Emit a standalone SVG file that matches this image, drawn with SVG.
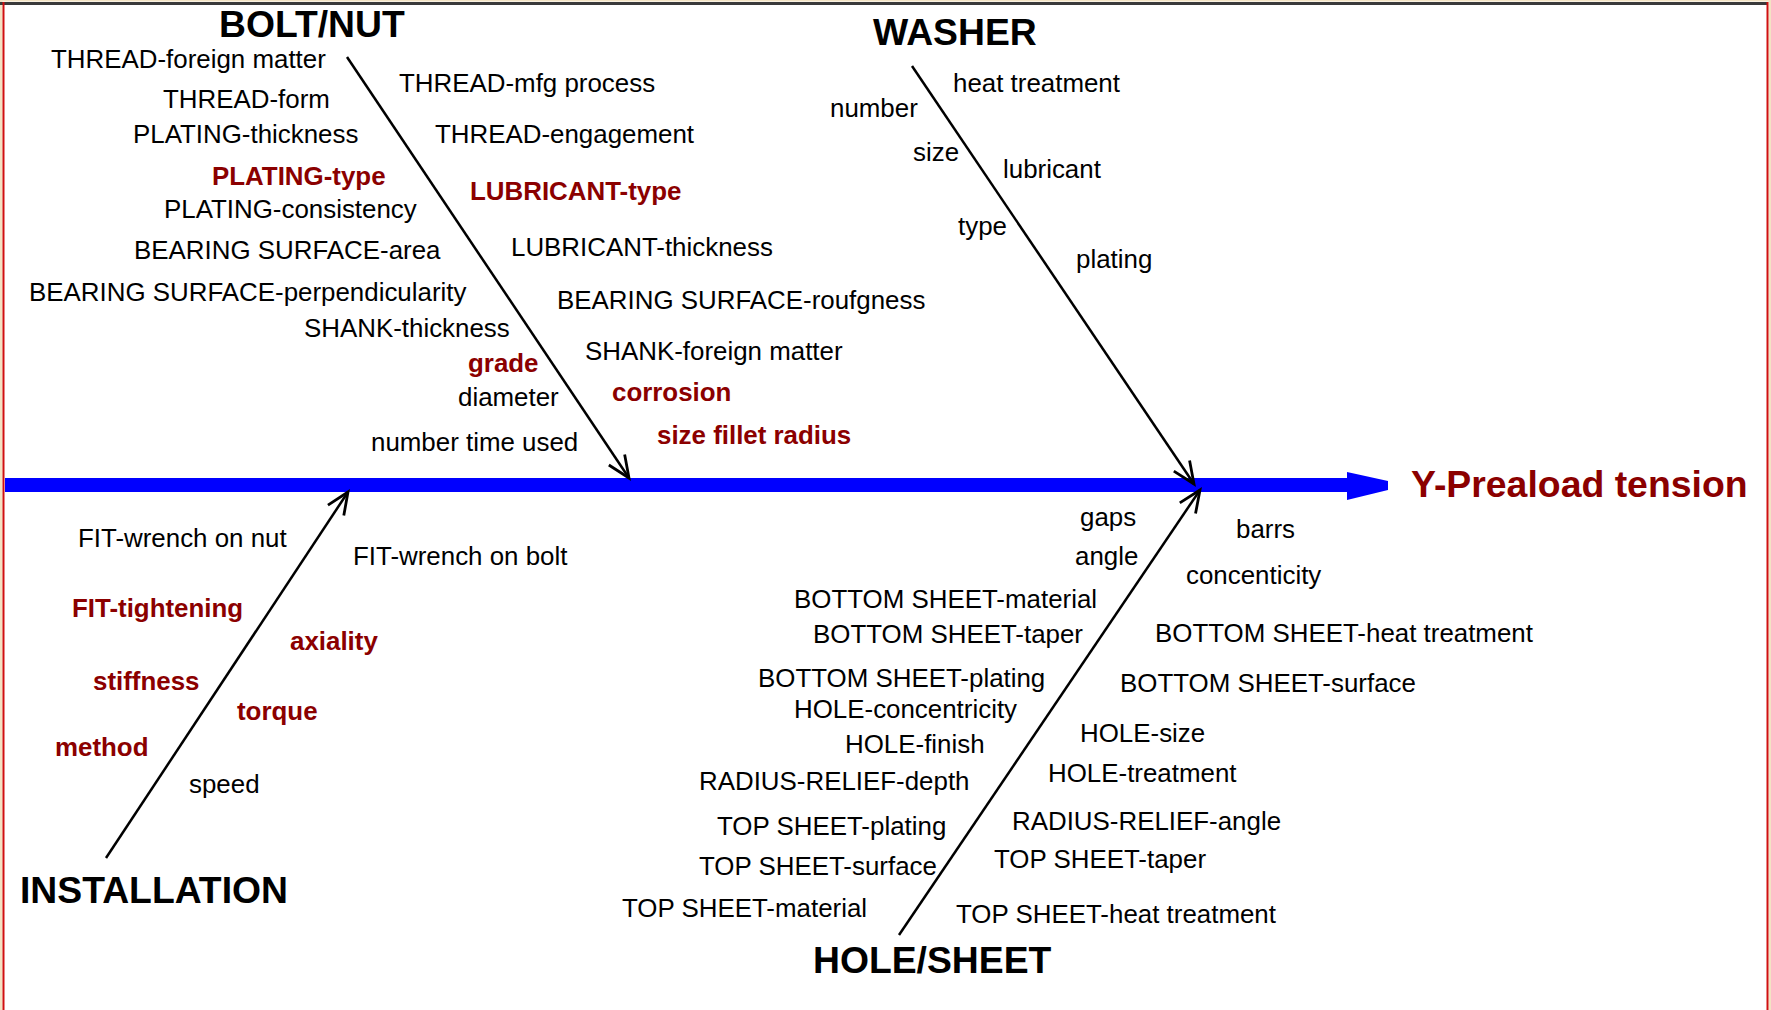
<svg xmlns="http://www.w3.org/2000/svg" width="1771" height="1010" viewBox="0 0 1771 1010">
<defs>
<style>
text{font-family:"Liberation Sans",Arial,sans-serif;font-size:25.9px;fill:#000}
.r{font-weight:bold;fill:#8b0000}
.h{font-weight:bold;font-size:37.3px}
.eff{font-weight:bold;font-size:37.4px;fill:#8b0000}
.bone{stroke:#000;stroke-width:2.5;fill:none}
</style>
<marker id="ah" markerWidth="28" markerHeight="24" refX="24" refY="12" orient="auto" markerUnits="userSpaceOnUse">
<path d="M2,2.5 L24,12 L2,21.5" fill="none" stroke="#000" stroke-width="2.8"/>
</marker>
</defs>
<rect x="0" y="0" width="1771" height="1010" fill="#fff"/>
<g id="frame">
<rect x="0" y="0" width="2.5" height="1010" fill="#f3e3c3"/>
<rect x="1768.5" y="0" width="2.5" height="1010" fill="#f3e3c3"/>
<rect x="0" y="0" width="1771" height="1.5" fill="#f3e3c3"/>
<line x1="0" y1="3.5" x2="1768" y2="3.5" stroke="#3a3a3a" stroke-width="3"/>
<line x1="3.5" y1="2" x2="3.5" y2="1010" stroke="#d01010" stroke-width="2"/>
<line x1="1767.5" y1="2" x2="1767.5" y2="1010" stroke="#d01010" stroke-width="2"/>
</g>
<g id="connectors">
<line x1="5" y1="485" x2="1350" y2="485" stroke="#0000ff" stroke-width="14"/>
<polygon points="1347,472 1388,481 1388,490 1347,500" fill="#0000ff"/>
<line class="bone" x1="347" y1="57" x2="629" y2="478" marker-end="url(#ah)"/>
<line class="bone" x1="912" y1="66" x2="1194" y2="484" marker-end="url(#ah)"/>
<line class="bone" x1="106" y1="858" x2="348" y2="492" marker-end="url(#ah)"/>
<line class="bone" x1="899" y1="935" x2="1200" y2="490" marker-end="url(#ah)"/>
</g>
<g id="effect">
<text class="eff" x="1411" y="497">Y-Preaload tension</text>
</g>
<g id="bolt-nut">
<text class="h" x="219" y="37">BOLT/NUT</text>
<text x="51" y="68">THREAD-foreign matter</text>
<text x="163" y="108">THREAD-form</text>
<text x="133" y="143">PLATING-thickness</text>
<text class="r" x="212" y="185">PLATING-type</text>
<text x="164" y="218">PLATING-consistency</text>
<text x="134" y="259">BEARING SURFACE-area</text>
<text x="29" y="301">BEARING SURFACE-perpendicularity</text>
<text x="304" y="337">SHANK-thickness</text>
<text class="r" x="468" y="372">grade</text>
<text x="458" y="406">diameter</text>
<text x="371" y="451">number time used</text>
<text x="399" y="92">THREAD-mfg process</text>
<text x="435" y="143">THREAD-engagement</text>
<text class="r" x="470" y="200">LUBRICANT-type</text>
<text x="511" y="256">LUBRICANT-thickness</text>
<text x="557" y="309">BEARING SURFACE-roufgness</text>
<text x="585" y="360">SHANK-foreign matter</text>
<text class="r" x="612" y="401">corrosion</text>
<text class="r" x="657" y="444">size fillet radius</text>
</g>
<g id="washer">
<text class="h" x="873" y="45">WASHER</text>
<text x="953" y="92">heat treatment</text>
<text x="830" y="117">number</text>
<text x="913" y="161">size</text>
<text x="1003" y="178">lubricant</text>
<text x="958" y="235">type</text>
<text x="1076" y="268">plating</text>
</g>
<g id="installation">
<text class="h" x="20" y="903">INSTALLATION</text>
<text x="78" y="547">FIT-wrench on nut</text>
<text x="353" y="565">FIT-wrench on bolt</text>
<text class="r" x="72" y="617">FIT-tightening</text>
<text class="r" x="290" y="650">axiality</text>
<text class="r" x="93" y="690">stiffness</text>
<text class="r" x="237" y="720">torque</text>
<text class="r" x="55" y="756">method</text>
<text x="189" y="793">speed</text>
</g>
<g id="hole-sheet">
<text class="h" x="813" y="973">HOLE/SHEET</text>
<text x="1080" y="526">gaps</text>
<text x="1075" y="565">angle</text>
<text x="1236" y="538">barrs</text>
<text x="1186" y="584">concenticity</text>
<text x="794" y="608">BOTTOM SHEET-material</text>
<text x="813" y="643">BOTTOM SHEET-taper</text>
<text x="758" y="687">BOTTOM SHEET-plating</text>
<text x="794" y="718">HOLE-concentricity</text>
<text x="845" y="753">HOLE-finish</text>
<text x="699" y="790">RADIUS-RELIEF-depth</text>
<text x="717" y="835">TOP SHEET-plating</text>
<text x="699" y="875">TOP SHEET-surface</text>
<text x="622" y="917">TOP SHEET-material</text>
<text x="1155" y="642">BOTTOM SHEET-heat treatment</text>
<text x="1120" y="692">BOTTOM SHEET-surface</text>
<text x="1080" y="742">HOLE-size</text>
<text x="1048" y="782">HOLE-treatment</text>
<text x="1012" y="830">RADIUS-RELIEF-angle</text>
<text x="994" y="868">TOP SHEET-taper</text>
<text x="956" y="923">TOP SHEET-heat treatment</text>
</g>
</svg>
